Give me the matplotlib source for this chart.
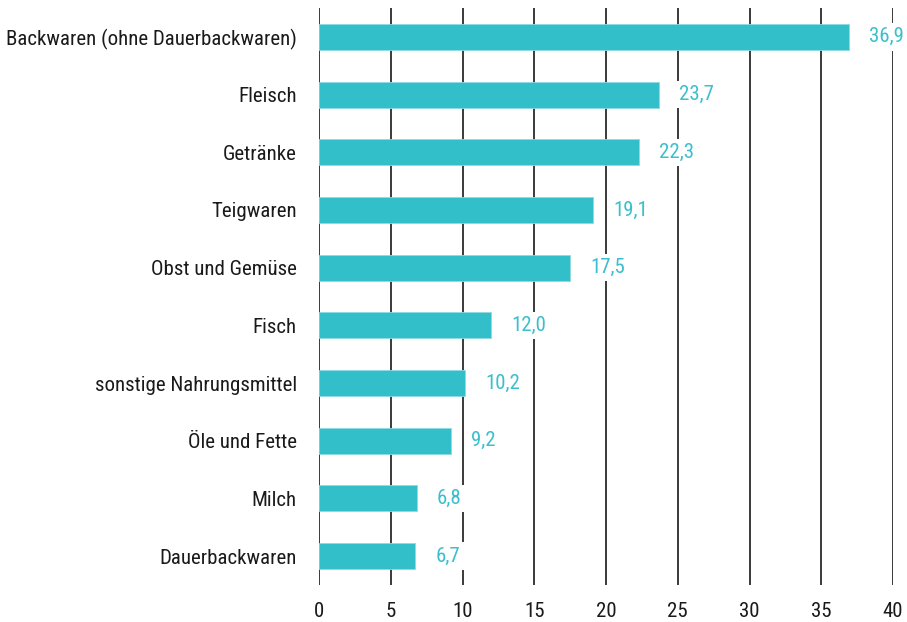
import matplotlib
matplotlib.use("Agg")
import matplotlib.pyplot as plt

categories = [
    "Backwaren (ohne Dauerbackwaren)", "Fleisch", "Getränke", "Teigwaren",
    "Obst und Gemüse", "Fisch", "sonstige Nahrungsmittel", "Öle und Fette",
    "Milch", "Dauerbackwaren",
]
values = [36.9, 23.7, 22.3, 19.1, 17.5, 12.0, 10.2, 9.2, 6.8, 6.7]
x_ticks = [0, 5, 10, 15, 20, 25, 30, 35, 40]

BAR_COLOR = "#33bfca"
LABEL_COLOR = "#3bbfcc"

plt.rcParams["font.family"] = ["Roboto Condensed", "DejaVu Sans"]

fig = plt.figure(figsize=(9.07, 6.22), dpi=100)
ax = fig.add_axes([319 / 907, 1 - 585 / 622, (893 - 319) / 907, (585 - 8) / 622])

pos = list(range(len(categories)))
ax.barh(pos, values, height=0.45, color=BAR_COLOR, edgecolor="#8fdbe1",
        linewidth=0.6, zorder=2)

# Werte rechts neben den Balken, weißer Hintergrund unterbricht das Gitter
for p, v in zip(pos, values):
    ax.annotate(f"{v:.1f}".replace(".", ","), xy=(v, p), xytext=(20, 0),
                textcoords="offset pixels", va="center", ha="left",
                fontsize=15, color=LABEL_COLOR, zorder=4,
                bbox=dict(facecolor="white", edgecolor="none", pad=3))

ax.set_xlim(0, 40)
ax.set_ylim(len(categories) - 0.5, -0.5)
ax.set_xticks(x_ticks)
ax.set_xticklabels([str(t) for t in x_ticks])
ax.set_yticks(pos)
ax.set_yticklabels(categories)
ax.tick_params(axis="both", length=0, labelsize=15, colors="#1a1a1a")
ax.tick_params(axis="y", pad=16)
ax.tick_params(axis="x", pad=12)

ax.grid(True, axis="x", color="#2b2b2b", linewidth=1.3, zorder=1)
ax.set_axisbelow(True)
for s in ax.spines.values():
    s.set_visible(False)

fig.savefig("out.png", dpi=100)
